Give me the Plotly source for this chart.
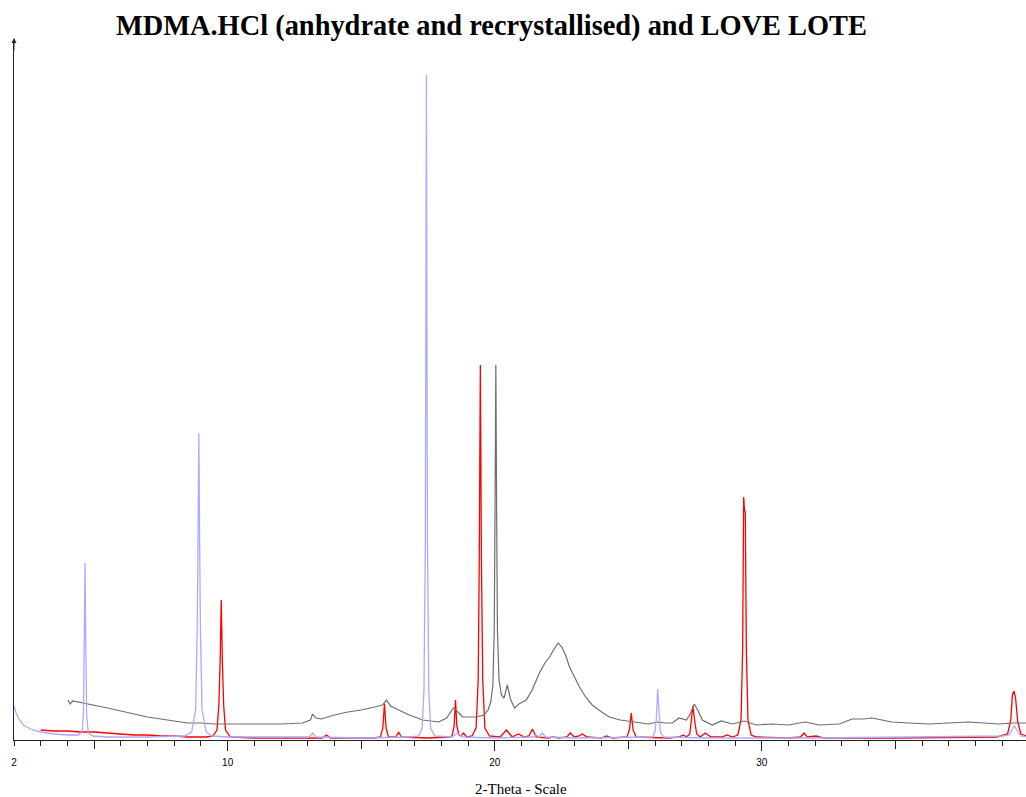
import plotly.graph_objects as go

# ---------------- data (2-Theta in degrees, intensity in arbitrary counts) ----------------
anhydrate_x = [2.00, 2.08, 2.20, 2.40, 2.70, 3.00, 3.50, 4.00, 4.40, 4.55, 4.60, 4.63, 4.66, 4.69, 4.72, 4.78, 4.95,
               5.50, 7.00, 8.40, 8.65, 8.80, 8.86, 8.89, 8.92, 8.95, 8.98, 9.04, 9.20, 9.40,
               10.0, 12.0, 13.05, 13.18, 13.30, 15.0, 16.8,
               17.15, 17.28, 17.35, 17.40, 17.44, 17.48, 17.53, 17.60, 17.75,
               18.40, 18.60, 18.80, 20.0, 21.40, 21.56, 21.66, 21.78, 21.90, 23.0, 25.60,
               25.90, 26.00, 26.05, 26.10, 26.15, 26.20, 26.32,
               28.0, 32.0, 36.0, 39.00, 39.25, 39.38, 39.45, 39.55, 39.70, 40.0]
anhydrate_y = [34, 27, 20, 14, 10, 8, 6, 5, 5, 8, 25, 90, 177, 90, 25, 7, 4,
               3, 3, 4, 8, 30, 110, 200, 307, 200, 110, 30, 8, 4,
               3, 3, 3, 7, 3, 2, 3,
               4, 12, 50, 200, 665, 200, 50, 12, 4,
               3, 7, 3, 2, 3, 5, 3, 7, 3, 2, 3,
               3, 8, 22, 51, 22, 8, 3,
               2, 2, 3, 4, 5, 10, 14, 10, 4, 3]

recryst_x = [3.00, 3.50, 4.00, 4.50, 5.00, 5.50, 6.00, 6.50, 7.00, 7.50, 8.00, 8.50, 9.20,
             9.45, 9.60, 9.67, 9.72, 9.76, 9.80, 9.85, 9.92, 10.10,
             11.0, 13.0, 13.55, 13.70, 13.85, 15.50,
             15.72, 15.81, 15.87, 15.93, 16.02, 16.30, 16.40, 16.50, 17.50, 18.30,
             18.40, 18.48, 18.53, 18.58, 18.66, 18.74, 18.83, 18.95,
             19.15, 19.30, 19.38, 19.42, 19.46, 19.50, 19.55, 19.63, 19.80,
             20.20, 20.44, 20.65, 20.89, 21.10, 21.28, 21.41, 21.55, 22.00, 22.16, 22.40,
             22.70, 22.83, 22.98, 23.16, 23.28, 23.45, 24.00, 24.18, 24.40,
             24.95, 25.04, 25.11, 25.18, 25.30, 26.50, 26.90, 27.06, 27.18,
             27.30, 27.36, 27.42, 27.48, 27.56, 27.70, 27.88, 28.10, 28.50, 28.70, 28.90,
             29.10, 29.22, 29.28, 29.32, 29.35, 29.38, 29.42, 29.48, 29.60, 29.80,
             31.00, 31.45, 31.58, 31.70, 32.03, 32.30, 35.00, 38.80,
             39.20, 39.32, 39.38, 39.44, 39.50, 39.58, 39.70, 40.00]
recryst_y = [10, 9, 9, 8, 8, 7, 6, 5, 5, 4, 4, 3, 3,
             4, 10, 35, 80, 140, 80, 35, 10, 3,
             2, 2, 2, 5, 2, 2,
             3, 12, 36, 12, 3, 3, 8, 3, 2, 3,
             4, 14, 40, 14, 5, 4, 7, 3,
             4, 12, 60, 180, 375, 180, 60, 12, 4,
             3, 10, 3, 6, 3, 4, 11, 3, 2, 3, 2,
             3, 7, 3, 4, 6, 3, 2, 4, 2,
             3, 10, 27, 10, 3, 2, 3, 5, 3,
             6, 20, 34, 20, 6, 3, 7, 3, 3, 5, 3,
             5, 20, 90, 243, 230, 228, 90, 20, 5, 3,
             2, 3, 7, 3, 4, 2, 2, 3,
             6, 20, 45, 49, 42, 18, 6, 3]

lote_x = [4.02, 4.10, 4.20, 4.40, 4.60, 5.00, 5.50, 6.00, 6.50, 7.00, 7.50, 8.00, 8.50, 9.00, 9.50,
          10.0, 11.0, 12.0, 12.80, 13.10, 13.18, 13.30, 13.50, 14.0, 14.5, 15.0, 15.5, 15.80, 15.95,
          16.10, 16.40, 16.80, 17.30, 17.90, 18.20, 18.45, 18.55, 18.80, 19.30, 19.60, 19.75, 19.85,
          19.93, 19.98, 20.01, 20.04, 20.07, 20.10, 20.16, 20.25, 20.35, 20.47, 20.60, 20.74, 20.90,
          21.18, 21.40, 21.67, 21.90, 22.05, 22.20, 22.38, 22.53, 22.65, 22.80, 23.00, 23.17, 23.40,
          23.65, 24.00, 24.29, 24.70, 25.15, 25.75, 26.10, 26.40, 26.65, 26.90, 27.17, 27.30, 27.47,
          27.60, 27.77, 28.14, 28.48, 28.89, 29.34, 29.79, 30.40, 31.00, 31.62, 32.14, 32.90, 33.38,
          33.80, 34.12, 34.50, 34.87, 35.50, 36.26, 37.00, 37.75, 38.30, 38.87, 39.40, 40.00]
lote_y = [40, 36, 39, 38, 37, 35, 32, 29, 26, 23, 21, 19, 17, 17, 16,
          16, 16, 16, 17, 20, 26, 22, 21, 25, 28, 30, 33, 35, 40,
          34, 30, 25, 20, 18, 22, 32, 30, 23, 23, 25, 30, 38,
          55, 110, 230, 375, 230, 110, 60, 45, 42, 55, 40, 32, 36,
          40, 50, 67, 78, 83, 90, 97, 92, 85, 73, 62, 53, 43,
          35, 28, 23, 20, 18, 16, 18, 17, 17, 22, 20, 25, 36,
          30, 20, 15, 19, 16, 19, 15, 16, 15, 18, 15, 16, 21,
          21, 22, 20, 18, 17, 16, 17, 18, 17, 16, 17, 17]

x_tick_vals = [2, 10, 20, 30, 40]
x_tick_text = ["2", "10", "20", "30", "40"]
title_text = "MDMA.HCl (anhydrate and recrystallised) and LOVE LOTE"
x_title = "2-Theta - Scale"

# ---------------- figure ----------------
X_RANGE = [2, 39.89]
fig = go.Figure()
fig.add_trace(go.Scatter(x=lote_x, y=lote_y, mode="lines", name="LOVE LOTE", xaxis="x2",
                         line=dict(color="#6e6e6e", width=1.2)))
fig.add_trace(go.Scatter(x=anhydrate_x, y=anhydrate_y, mode="lines", name="MDMA.HCl anhydrate",
                         xaxis="x3", line=dict(color="#aaaaff", width=1.3)))
fig.add_trace(go.Scatter(x=recryst_x, y=recryst_y, mode="lines", name="MDMA.HCl recrystallised",
                         line=dict(color="#ff0000", width=1.3)))

axis_col = "#222222"
fig.update_layout(
    width=1026, height=797,
    margin=dict(l=14, r=0, t=40, b=57),
    paper_bgcolor="white", plot_bgcolor="white",
    showlegend=False,
    title=dict(text="<b>" + title_text + "</b>", x=0.479, xanchor="center",
               y=1 - 25 / 797, yanchor="middle",
               font=dict(family="Liberation Serif", size=28.4, color="black")),
    xaxis=dict(range=X_RANGE, showgrid=False, zeroline=False, showline=True,
               linecolor=axis_col, linewidth=1,
               tickmode="array", tickvals=[10, 20, 30, 40], ticks="outside", ticklen=10,
               tickcolor=axis_col, showticklabels=False,
               minor=dict(tickmode="linear", tick0=2, dtick=1, ticks="outside",
                          ticklen=5, tickcolor=axis_col, showgrid=False)),
    xaxis2=dict(range=X_RANGE, overlaying="x", anchor="y", side="bottom",
                showgrid=False, zeroline=False, showline=False,
                tickmode="array", tickvals=[5, 15, 25, 35], ticks="outside", ticklen=8,
                tickcolor=axis_col, showticklabels=False),
    xaxis3=dict(range=X_RANGE, overlaying="x", anchor="y", side="bottom",
                showgrid=False, zeroline=False, showline=False,
                tickmode="array", tickvals=x_tick_vals, ticktext=x_tick_text, ticks="",
                ticklabelstandoff=15,
                tickfont=dict(family="Liberation Sans", size=10, color="black")),
    yaxis=dict(range=[0, 700], showgrid=False, zeroline=False, showline=True,
               linecolor=axis_col, linewidth=1, ticks="", showticklabels=False),
)

fig.add_annotation(xref="paper", yref="paper", x=0, y=1.003, ax=0, ay=14,
                   showarrow=True, arrowhead=2, arrowsize=1, arrowwidth=1,
                   arrowcolor=axis_col, text="")
fig.add_annotation(xref="paper", yref="paper", x=0.501, y=-0.07, text=x_title,
                   showarrow=False, xanchor="center", yanchor="middle",
                   font=dict(family="Liberation Serif", size=15, color="black"))

fig.write_html("out.html")
